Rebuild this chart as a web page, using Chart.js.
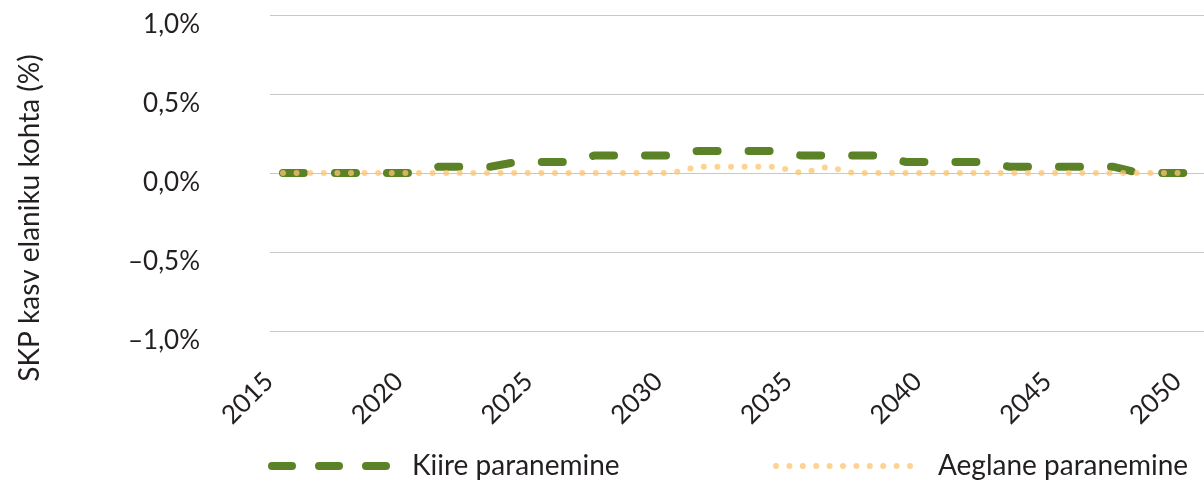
<!DOCTYPE html>
<html>
<head>
<meta charset="utf-8">
<script src="https://cdn.jsdelivr.net/npm/chart.js@4"></script>
<style>
  html, body { margin: 0; padding: 0; background: #fff; }
  #wrap { width: 1204px; height: 484px; position: relative; }
</style>
</head>
<body>
<div id="wrap"><canvas id="myChart" width="1204" height="484"></canvas></div>
<script>
const years = [];
for (let y = 2015; y <= 2050; y++) years.push(String(y));

// % per year
const kiire = [0, 0, 0, 0, 0, 0, 0.04, 0.04, 0.04, 0.07, 0.07, 0.07,
  0.11, 0.11, 0.11, 0.11, 0.14, 0.14, 0.14, 0.14, 0.11, 0.11, 0.11, 0.11,
  0.07, 0.07, 0.07, 0.07, 0.04, 0.04, 0.04, 0.04, 0.04, 0, 0, 0];
const aeglane = [0, 0, 0, 0, 0, 0, 0, 0, 0, 0, 0, 0,
  0, 0, 0, 0, 0.04, 0.04, 0.04, 0.04, 0, 0.04, 0, 0,
  0, 0, 0, 0, 0, 0, 0, 0, 0, 0, 0, 0];

const seriesNames = ["Kiire paranemine", "Aeglane paranemine"];
const yTitle = "SKP kasv elaniku kohta (%)";
const yTicks = [-1, -0.5, 0, 0.5, 1];

const fontFamily = "Lato, 'Noto Sans', sans-serif";
const textColor = "#231f20";
const green = "#5b8226";
const orange = "rgba(252, 196, 112, 0.75)";

function fmtPct(v) {
  let s = Math.abs(v).toFixed(1).replace(".", ",") + "%";
  return v < 0 ? "\u2013" + s : s;
}

// y title and legend drawn by hand so they land where the original has them
const extras = {
  id: "extras",
  afterDraw(chart) {
    const c = chart.ctx;
    c.save();
    c.fillStyle = textColor;
    c.font = "28px " + fontFamily;
    c.textBaseline = "middle";

    // y axis title
    c.save();
    c.translate(30, 218);
    c.rotate(-Math.PI / 2);
    c.textAlign = "center";
    c.fillText(yTitle, 0, 0);
    c.restore();

    // legend
    const ly = 466;
    c.lineCap = "round";
    c.strokeStyle = green;
    c.lineWidth = 8;
    c.setLineDash([20, 27]);
    c.beginPath(); c.moveTo(272, ly); c.lineTo(392, ly); c.stroke();

    c.strokeStyle = orange;
    c.lineWidth = 6;
    c.setLineDash([0, 13.4]);
    c.beginPath(); c.moveTo(776, ly); c.lineTo(912, ly); c.stroke();
    c.setLineDash([]);

    c.textAlign = "left";
    c.fillText(seriesNames[0], 412, ly);
    c.fillText(seriesNames[1], 938, ly);
    c.restore();
  }
};

const ctx = document.getElementById("myChart");
new Chart(ctx, {
  type: "line",
  data: {
    labels: years,
    datasets: [
      {
        label: seriesNames[0],
        data: kiire,
        borderColor: green,
        borderWidth: 8,
        borderDash: [21, 31],
        borderCapStyle: "round",
        pointRadius: 0,
        tension: 0,
        order: 1
      },
      {
        label: seriesNames[1],
        data: aeglane,
        borderColor: orange,
        borderWidth: 6,
        borderDash: [0, 13.6],
        borderCapStyle: "round",
        pointRadius: 0,
        tension: 0,
        order: 0
      }
    ]
  },
  options: {
    responsive: false,
    animation: false,
    layout: { padding: { top: 15, right: 0, bottom: 0, left: 0 } },
    plugins: { legend: { display: false }, tooltip: { enabled: false } },
    scales: {
      x: {
        type: "category",
        offset: true,
        grid: { display: false, drawTicks: false },
        border: { display: false },
        afterFit(scale) {
          scale.height = 153;
          scale.paddingLeft = 0; scale.paddingRight = 0;
          scale.paddingTop = 0; scale.paddingBottom = 0;
        },
        ticks: {
          autoSkip: false,
          maxRotation: 45,
          minRotation: 45,
          padding: 35,
          labelOffset: -14,
          color: textColor,
          font: { family: fontFamily, size: 26 },
          callback(val, i) {
            const lab = this.getLabelForValue(val);
            return Number(lab) % 5 === 0 ? lab : "";
          }
        }
      },
      y: {
        min: -1,
        max: 1,
        afterFit(scale) {
          scale.width = 270;
          scale.paddingLeft = 0; scale.paddingRight = 0;
          scale.paddingTop = 0; scale.paddingBottom = 0;
        },
        afterBuildTicks(scale) { scale.ticks = yTicks.map(v => ({ value: v })); },
        grid: { color: "#c8c8c8", lineWidth: 1, drawTicks: false },
        border: { display: false },
        ticks: {
          padding: 70,
          labelOffset: 10,
          color: textColor,
          font: { family: fontFamily, size: 26 },
          callback: v => fmtPct(v)
        }
      }
    }
  },
  plugins: [extras]
});
</script>
</body>
</html>
